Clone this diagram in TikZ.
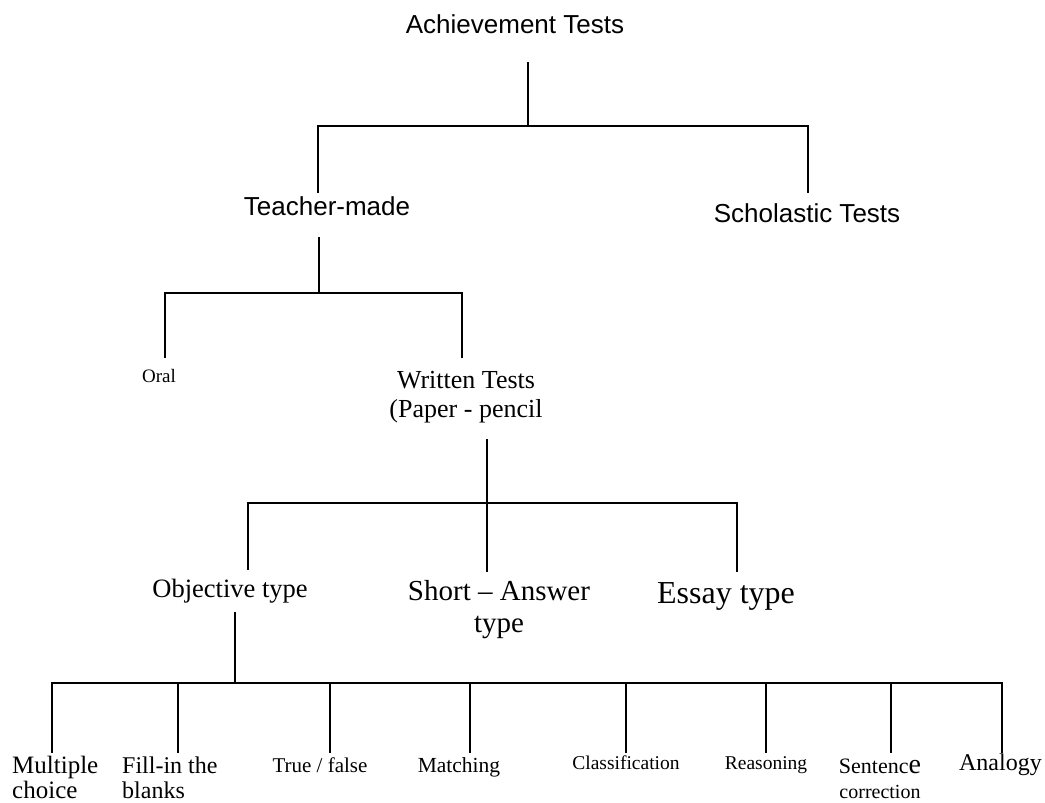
\documentclass[tikz,border=0pt]{standalone}
\usepackage{fontspec}
\setmainfont{Liberation Serif}
\setsansfont{Liberation Sans}
\usetikzlibrary{positioning}
\tikzset{
  branch/.style={line width=1.6pt, line cap=rect},
  head/.style={font=\sffamily\fontsize{26}{28}\selectfont, inner sep=0pt, anchor=base},
  leaf/.style={inner sep=0pt, anchor=base, align=center},
}

\begin{document}
\begin{tikzpicture}[x=1pt, y=-1pt]
\useasboundingbox (0,0) rectangle (1045,803);

% top level
\node[head] (achieve) at (515,33) {Achievement Tests};
\node[head] (teacher) at (327,215) {Teacher-made};
\node[head] (scholastic) at (807,222) {Scholastic Tests};

\coordinate (achieve-stem) at (528,63);
\coordinate (bar1-mid) at (528,126);
\coordinate (bar1-l) at (318,126);
\coordinate (bar1-r) at (808,126);
\coordinate (teacher-in) at (318,192);
\coordinate (scholastic-in) at (808,192);
\draw[branch] (achieve-stem) -- (bar1-mid);
\draw[branch] (teacher-in) -- (bar1-l) -- (bar1-r) -- (scholastic-in);

% teacher-made (base anchor sits on the last line)
\node[leaf, anchor=base west, font=\fontsize{19}{21}\selectfont] (oral) at (142,382) {Oral};
\node[leaf, font=\fontsize{26}{29}\selectfont] (written) at (466,417) {Written Tests\\(Paper - pencil};

\coordinate (teacher-stem) at (319,238);
\coordinate (bar2-mid) at (319,293);
\coordinate (bar2-l) at (165,293);
\coordinate (bar2-r) at (462,293);
\coordinate (oral-in) at (165,357);
\coordinate (written-in) at (462,357);
\draw[branch] (teacher-stem) -- (bar2-mid);
\draw[branch] (oral-in) -- (bar2-l) -- (bar2-r) -- (written-in);

% written tests
\node[leaf, font=\fontsize{26.5}{29}\selectfont] (objective) at (230,597) {Objective type};
\node[leaf, font=\fontsize{29}{32}\selectfont] (short) at (499,632) {Short -- Answer\\type};
\node[leaf, font=\fontsize{32}{34}\selectfont] (essay) at (726,603) {Essay type};

\coordinate (written-stem) at (487,440);
\coordinate (bar3-mid) at (487,503);
\coordinate (bar3-l) at (248,503);
\coordinate (bar3-r) at (737,503);
\coordinate (objective-in) at (248,569);
\coordinate (short-in) at (487,571);
\coordinate (essay-in) at (737,571);
\draw[branch] (written-stem) -- (bar3-mid) -- (short-in);
\draw[branch] (objective-in) -- (bar3-l) -- (bar3-r) -- (essay-in);

% objective type
\node[leaf, anchor=base west, align=left, font=\fontsize{25}{25}\selectfont] (multiple) at (12,798) {Multiple\\choice};
\node[leaf, anchor=base west, align=left, font=\fontsize{24}{25}\selectfont] (fillin) at (122,798) {Fill-in the\\blanks};
\node[leaf, font=\fontsize{21}{24}\selectfont] (truefalse) at (320,772) {True / false};
\node[leaf, font=\fontsize{21.5}{24}\selectfont] (matching) at (459,772) {Matching};
\node[leaf, font=\fontsize{19.5}{22}\selectfont] (classify) at (626,769) {Classification};
\node[leaf, font=\fontsize{19.5}{22}\selectfont] (reasoning) at (766,769) {Reasoning};
\node[leaf, font=\fontsize{20}{25}\selectfont] (sentence) at (880,798) {{\fontsize{22}{25}\selectfont Sentenc}{\fontsize{28}{25}\selectfont e}\\correction};
\node[leaf, anchor=base east, font=\fontsize{24}{26}\selectfont] (analogy) at (1042,770) {Analogy};

\coordinate (objective-stem) at (235,613);
\coordinate (bar4-mid) at (235,683);
\coordinate (bar4-l) at (52,683);
\coordinate (bar4-r) at (1002,683);
\draw[branch] (objective-stem) -- (bar4-mid);
\draw[branch] (bar4-l) -- (bar4-r);
\foreach \n/\dx in {multiple/52, fillin/178, truefalse/330, matching/470, classify/626, reasoning/766, sentence/891, analogy/1002}{
  \coordinate (\n-in) at (\dx,752);
  \draw[branch] (\n-in |- bar4-l) -- (\n-in);
}
\end{tikzpicture}
\end{document}
